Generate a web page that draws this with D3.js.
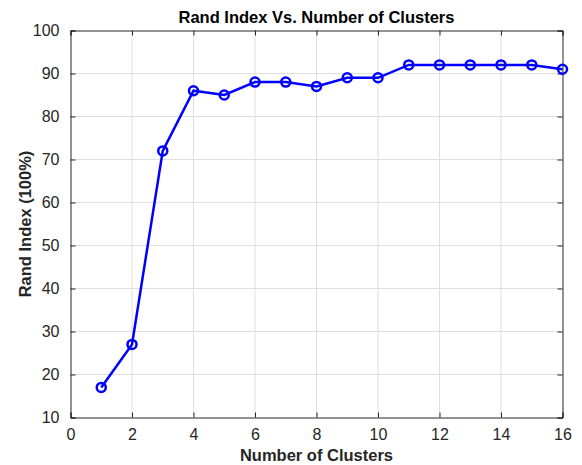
<!DOCTYPE html>
<html>
<head>
<meta charset="utf-8">
<script src="https://cdn.jsdelivr.net/npm/d3@7"></script>
<style>
  body { margin: 0; background: #fff; }
  text { font-family: Arial, "Liberation Sans", sans-serif; }
</style>
</head>
<body>
<svg id="chart" width="582" height="465"></svg>
<script>
// values
const clusters = [1, 2, 3, 4, 5, 6, 7, 8, 9, 10, 11, 12, 13, 14, 15, 16];
const randIndex = [17, 27, 72, 86, 85, 88, 88, 87, 89, 89, 92, 92, 92, 92, 92, 91];
const xTicks = [0, 2, 4, 6, 8, 10, 12, 14, 16];
const yTicks = [10, 20, 30, 40, 50, 60, 70, 80, 90, 100];

const svg = d3.select("#chart");
const plotLeft = 70.5, plotRight = 562.5, plotTop = 30.5, plotBottom = 417.5;

const x = d3.scaleLinear().domain([0, 16]).range([plotLeft, plotRight]);
const y = d3.scaleLinear().domain([10, 100]).range([plotBottom, plotTop]);

// grid
svg.append("g").selectAll("line")
    .data(xTicks.slice(1, -1))
    .enter()
    .append("line")
    .attr("x1", d => x(d)).attr("x2", d => x(d))
    .attr("y1", plotTop).attr("y2", plotBottom)
    .attr("stroke", "#dfdfdf");

svg.append("g").selectAll("line")
    .data(yTicks.slice(1, -1))
    .enter()
    .append("line")
    .attr("x1", plotLeft).attr("x2", plotRight)
    .attr("y1", d => y(d)).attr("y2", d => y(d))
    .attr("stroke", "#dfdfdf");

// axes, ticks pointing inward
const axisColor = "#262626";
svg.append("g")
    .attr("transform", `translate(0,${plotBottom})`)
    .call(d3.axisBottom(x).tickValues(xTicks).tickSize(-5).tickPadding(11));
svg.append("g")
    .attr("transform", `translate(${plotLeft},0)`)
    .call(d3.axisLeft(y).tickValues(yTicks).tickSize(-5).tickPadding(11));
svg.append("g")
    .attr("transform", `translate(0,${plotTop})`)
    .call(d3.axisTop(x).tickValues(xTicks).tickSize(-5).tickFormat(""));
svg.append("g")
    .attr("transform", `translate(${plotRight},0)`)
    .call(d3.axisRight(y).tickValues(yTicks).tickSize(-5).tickFormat(""));

svg.selectAll(".domain").attr("stroke", axisColor);
svg.selectAll(".tick line").attr("stroke", axisColor);
svg.selectAll(".tick text")
    .attr("fill", axisColor)
    .style("font-size", "16px")
    .style("font-family", "Arial, 'Liberation Sans', sans-serif");

// line + markers
const line = d3.line()
    .x((d, i) => x(clusters[i]))
    .y(d => y(d));

svg.append("path")
    .datum(randIndex)
    .attr("d", line)
    .attr("fill", "none")
    .attr("stroke", "#0000ff")
    .attr("stroke-width", 2.5);

svg.selectAll("circle.pt")
    .data(randIndex)
    .enter()
    .append("circle")
    .attr("class", "pt")
    .attr("cx", (d, i) => x(clusters[i]))
    .attr("cy", d => y(d))
    .attr("r", 4.5)
    .attr("fill", "none")
    .attr("stroke", "#0000ff")
    .attr("stroke-width", 2.5);

// labels
svg.append("text")
    .attr("x", (plotLeft + plotRight) / 2)
    .attr("y", 23)
    .attr("text-anchor", "middle")
    .style("font-size", "16.5px")
    .style("font-weight", "bold")
    .attr("fill", "#000")
    .text("Rand Index Vs. Number of Clusters");

svg.append("text")
    .attr("x", (plotLeft + plotRight) / 2)
    .attr("y", 461)
    .attr("text-anchor", "middle")
    .style("font-size", "16.5px")
    .style("font-weight", "bold")
    .attr("fill", axisColor)
    .text("Number of Clusters");

svg.append("text")
    .attr("transform", `translate(31,${(plotTop + plotBottom) / 2}) rotate(-90)`)
    .attr("text-anchor", "middle")
    .style("font-size", "16.5px")
    .style("font-weight", "bold")
    .attr("fill", axisColor)
    .text("Rand Index (100%)");
</script>
</body>
</html>
